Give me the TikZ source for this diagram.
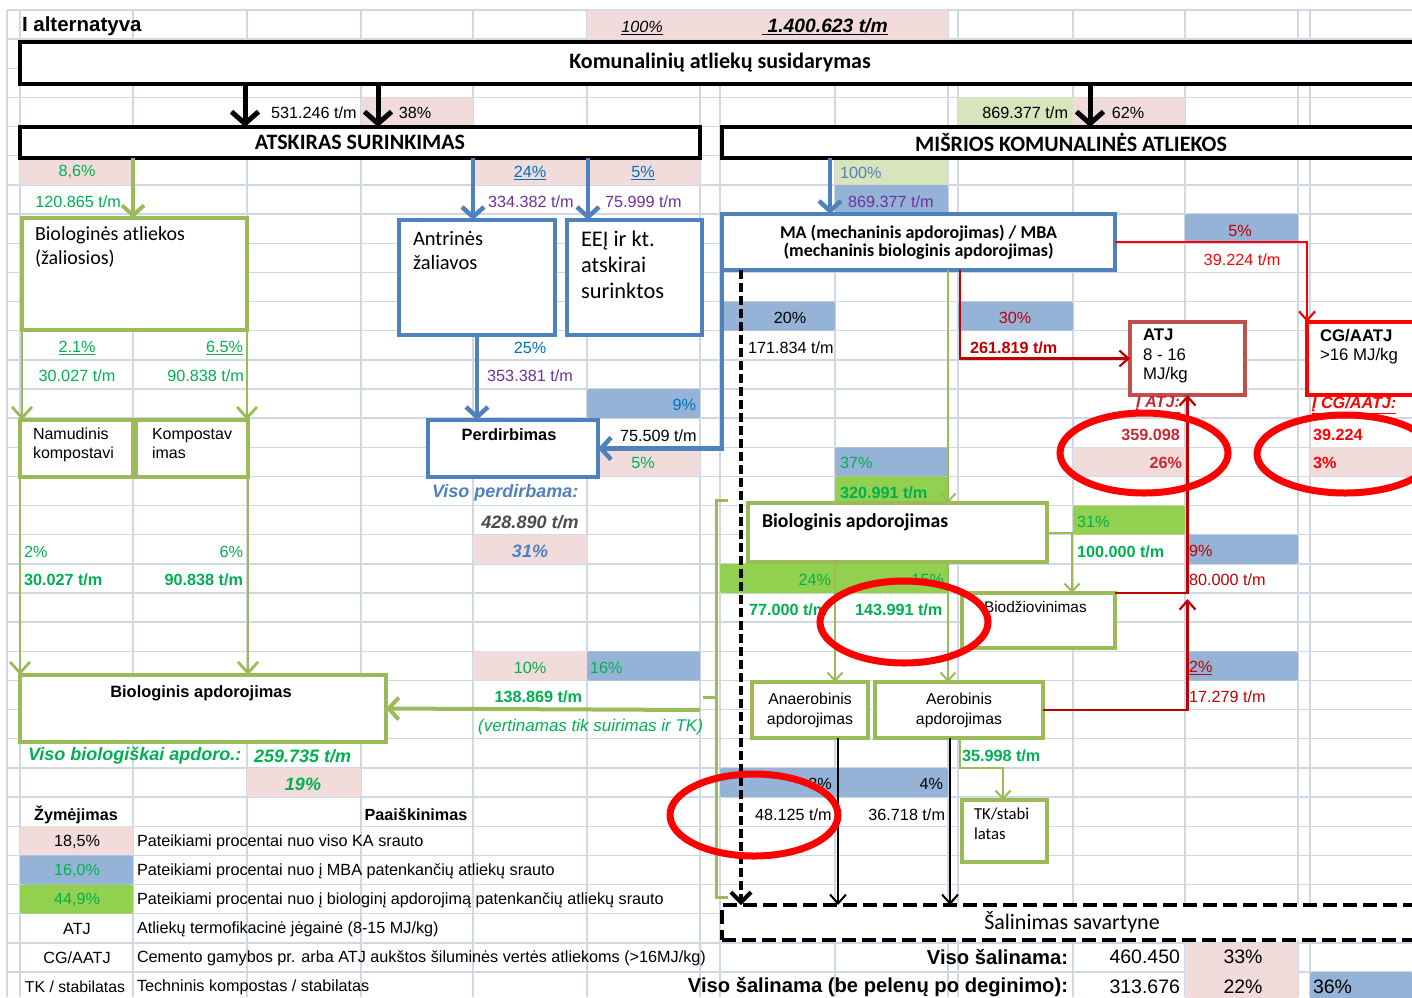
\documentclass[tikz,border=0pt]{standalone}
\usepackage{fontspec}
\setmainfont{Carlito}
\newfontfamily\arialf{Liberation Sans}
\usetikzlibrary{arrows.meta,positioning,calc}
\definecolor{gridc}{RGB}{208,215,229}
\definecolor{pinkc}{RGB}{242,220,219}
\definecolor{bluec}{RGB}{149,179,215}
\definecolor{limec}{RGB}{146,208,80}
\definecolor{paleg}{RGB}{216,228,188}
\definecolor{boxg}{RGB}{155,187,89}
\definecolor{boxb}{RGB}{79,129,189}
\definecolor{txtg}{RGB}{0,176,80}
\definecolor{txtp}{RGB}{112,48,160}
\definecolor{txtb}{RGB}{0,112,192}
\definecolor{darkred}{RGB}{192,0,0}
\definecolor{atjred}{RGB}{192,80,77}
\definecolor{atjtxt}{RGB}{200,40,50}

\tikzset{
  every node/.style={inner sep=0pt, outer sep=0pt},
  gridl/.style={draw=gridc, line width=1.4pt},
  kbox/.style={draw=black, line width=4.5pt, fill=white, anchor=north west,
    font=\bfseries\fontsize{22}{24}\selectfont},
  gbox/.style={draw=boxg, line width=3.8pt, fill=white, anchor=north west},
  bbox/.style={draw=boxb, line width=4pt, fill=white, anchor=north west},
  n/.style={font=\arialf\fontsize{16.2}{19}\selectfont},
  nb/.style={font=\arialf\bfseries\fontsize{16.2}{19}\selectfont},
  nbi/.style={font=\arialf\bfseries\itshape\fontsize{18}{20}\selectfont},
  gn/.style={n, text=txtg}, gnb/.style={nb, text=txtg}, gnbi/.style={nbi, text=txtg},
  pn/.style={n, text=txtp}, bn/.style={n, text=txtb},
  rn/.style={n, text=darkred}, rnb/.style={nb, text=atjtxt},
  sm/.style={font=\arialf\fontsize{15.8}{20}\selectfont},
  cal/.style={font=\fontsize{20}{24}\selectfont, align=left},
  bigarr/.style={line width=5pt, -{Straight Barb[length=12pt,width=27pt]}},
  garr/.style={draw=boxg, line width=4pt, -{Straight Barb[length=10pt,width=22pt]}},
  garm/.style={draw=boxg, line width=2.8pt, -{Straight Barb[length=11pt,width=20pt]}},
  gart/.style={draw=boxg, line width=2pt, -{Straight Barb[length=8pt,width=15pt]}},
  barr/.style={draw=boxb, line width=4.5pt, -{Straight Barb[length=10pt,width=22pt]}},
  rarr/.style={draw=darkred, line width=2.2pt, -{Straight Barb[length=9pt,width=16pt]}},
  karr/.style={draw=black, line width=2pt, -{Straight Barb[length=9pt,width=16pt]}},
  kdash/.style={draw=black, line width=4pt, dash pattern=on 9pt off 4pt,
    -{Straight Barb[length=10pt,width=20pt]}},
  ring/.style={draw=red, line width=7pt}
}

\begin{document}
\begin{tikzpicture}[x=1pt, y=-1pt]
  \useasboundingbox (0,0) rectangle (1412,997);
  \clip (0,0) rectangle (1412,997);
  % spreadsheet grid
  \foreach \k in {0,...,33} \draw[gridl] (7,{10+29.15*\k}) -- (1412,{10+29.15*\k});
  \foreach \x in {7,20,133,247,361,473,587,700,720,835,948,958,1073,1185,1298,1310}
    \draw[gridl] (\x,10) -- (\x,997);
  % coloured cells
  \foreach \a/\b/\c/\d in {587/10/948/39.2, 361/97.5/473/126.6, 1073/97.5/1185/126.6,
      20/155.8/133/184.9, 473/155.8/700/184.9, 587/447.3/700/476.4, 1073/447.3/1185/476.4,
      1310/447.3/1412/476.4, 473/534.7/587/563.9, 473/651.3/587/680.5, 247/767.9/361/797.1,
      20/826.2/133/855.4, 1185/942.8/1298/1001}
    \fill[pinkc, rounded corners=2pt] (\a,\b) rectangle (\c,\d);
  \foreach \a/\b/\c/\d in {958/97.5/1073/126.6, 835/155.8/948/184.9}
    \fill[paleg, rounded corners=2pt] (\a,\b) rectangle (\c,\d);
  \foreach \a/\b/\c/\d in {835/184.9/948/214.1, 1185/214.1/1298/243.2, 722/301.5/835/330.7,
      958/301.5/1073/330.7, 587/389/700/418.1, 835/447.3/948/476.4, 1187/534.7/1298/563.9,
      587/651.3/700/680.5, 1187/651.3/1298/680.5, 720/767.9/948/797.1, 20/855.4/133/884.5,
      1310/972/1412/1001}
    \fill[bluec, rounded corners=2pt] (\a,\b) rectangle (\c,\d);
  \foreach \a/\b/\c/\d in {835/476.4/948/505.6, 1073/505.6/1185/534.7, 720/563.9/948/593,
      20/884.5/133/913.7}
    \fill[limec, rounded corners=2pt] (\a,\b) rectangle (\c,\d);

  % boxes
  \node[kbox, minimum width=1400pt, minimum height=42pt] (kom) at (20,42) {Komunalinių atliekų susidarymas};
  \node[kbox, minimum width=680pt, minimum height=31pt] (ats) at (20,127) {ATSKIRAS SURINKIMAS};
  \node[kbox, minimum width=698pt, minimum height=31pt] (mis) at (722,127) {\raisebox{-2pt}{MIŠRIOS KOMUNALINĖS ATLIEKOS}};
  \node[gbox, minimum width=225pt, minimum height=112pt] (bio) at (22,218) {};
  \node[bbox, minimum width=156pt, minimum height=115pt] (antr) at (399,220) {};
  \node[bbox, minimum width=135pt, minimum height=115pt] (eej) at (567,220) {};
  \node[bbox, minimum width=393pt, minimum height=56pt, align=center,
    font=\bfseries\fontsize{18}{18}\selectfont] (ma) at (722,214)
    {MA (mechaninis apdorojimas) / MBA\\(mechaninis biologinis apdorojimas)};
  \node[gbox, minimum width=113pt, minimum height=57pt] (nam) at (20,420) {};
  \node[gbox, minimum width=112pt, minimum height=57pt] (komp) at (136,420) {};
  \node[bbox, minimum width=170pt, minimum height=57pt] (perd) at (428,420) {};
  \node[draw=atjred, line width=4pt, fill=white, anchor=north west,
    minimum width=115pt, minimum height=73pt] (atj) at (1130,322) {};
  \node[draw=red, line width=4pt, fill=white, anchor=north west,
    minimum width=113pt, minimum height=73pt] (cg) at (1307,322) {};
  \node[gbox, minimum width=299pt, minimum height=59pt] (bior) at (748,503) {};
  \node[gbox, minimum width=153pt, minimum height=55pt] (biod) at (962,593) {};
  \node[gbox, sm, minimum width=116pt, minimum height=56pt, align=center] (anae) at (752,682) {Anaerobinis\\apdorojimas};
  \node[gbox, sm, minimum width=168pt, minimum height=56pt, align=center] (aero) at (875,682) {Aerobinis\\apdorojimas};
  \node[gbox, minimum width=85pt, minimum height=62pt] (tk) at (962,800) {};
  \node[gbox, minimum width=366pt, minimum height=67pt] (biol) at (20,675) {};
  \node[draw=black, line width=4pt, dash pattern=on 14pt off 6pt, fill=white, anchor=north west,
    minimum width=700pt, minimum height=35pt, font=\fontsize{22}{24}\selectfont] (sal) at (722,905)
    {Šalinimas savartyne};

  % flows
  \draw[bigarr] ([xshift=225pt]kom.south west) -- ([xshift=225pt]ats.north west);
  \draw[bigarr] ([xshift=358pt]kom.south west) -- ([xshift=358pt]ats.north west);
  \draw[bigarr] ([xshift=1070pt]kom.south west) -- ([xshift=368pt]mis.north west);
  \draw[garr] ([xshift=113pt]ats.south west) -- ([xshift=111pt]bio.north west);
  \draw[barr] ([xshift=453pt]ats.south west) -- ([xshift=74pt]antr.north west);
  \draw[barr] ([xshift=568pt]ats.south west) -- ([xshift=21pt]eej.north west);
  \draw[barr] ([xshift=108pt]mis.south west) -- ([xshift=108pt]ma.north west);
  \draw[garm] (bio.south west) -- (bio.south west |- nam.north);
  \draw[garm] (bio.south east) -- (bio.south east |- komp.north);
  \draw[garm] (nam.south west) -- (nam.south west |- biol.north);
  \draw[garm] (komp.south east) -- (komp.south east |- biol.north);
  \draw[barr] (antr.south) -- (antr.south |- perd.north);
  \draw[barr] (ma.south west) |- (perd.east);
  \draw[kdash] ([xshift=19pt]ma.south west) -- ([xshift=19pt]sal.north west);
  \draw[gart] ([xshift=226pt]ma.south west) -- ([xshift=200pt]bior.north west);
  \draw[rarr] ([xshift=238pt]ma.south west) |- (atj.west);
  \draw[rarr, draw=red] (ma.east) -| (cg.north west);
  \draw[gart] (bior.east) -| ([xshift=110pt]biod.north west);
  \draw[gart] ([xshift=87pt]bior.south west) -- ([xshift=83pt]anae.north west);
  \draw[gart] ([xshift=200pt]bior.south west) -- ([xshift=73pt]aero.north west);
  \draw[karr] ([xshift=86pt]anae.south west) -- ([xshift=116pt]sal.north west);
  \draw[karr] ([xshift=75pt]aero.south west) -- ([xshift=228pt]sal.north west);
  \draw[gart] ([xshift=85pt]aero.south west) -- ++(0,30) -| ([xshift=41pt]tk.north west);
  \coordinate (rj) at (biod.north east -| atj.south);
  \draw[rarr] (biod.north east) -| (atj.south);
  \draw[rarr] (aero.east) -| ([yshift=-6pt]rj);
  \draw[boxg, line width=3pt] (728,500) -- (716,500) -- (716,897) -- (728,897) (716,697) -- (703,697);
  \coordinate (brk) at (700,710);
  \draw[garr] (brk) -- (biol.east);

  % labels
  \node[font=\arialf\bfseries\fontsize{20.5}{22}\selectfont, anchor=west] (alt) at (22,26) {I alternatyva};
  \node[font=\arialf\itshape\fontsize{16.2}{19}\selectfont] (p100) at (642,28) {\underline{100\%}};
  \node[font=\arialf\bfseries\itshape\fontsize{19.3}{22}\selectfont] (ptot) at (825,27) {\underline{\ 1.400.623 t/m}};
  \node[n, anchor=west] (q531) at (271,113) {531.246 t/m};
  \node[n] (q38) at (415,113) {38\%};
  \node[n, anchor=east] (q869) at (1068,113) {869.377 t/m};
  \node[n] (q62) at (1128,113) {62\%};
  \node[gn] (p86) at (77,172) {8,6\%};
  \node[bn] (p24) at (530,173) {\underline{24\%}};
  \node[bn] (p5a) at (643,173) {\underline{5\%}};
  \node[n, text=boxb, anchor=west] (p100b) at (840,173) {100\%};
  \node[gn, anchor=east] (q120) at (121,202) {120.865 t/m};
  \node[pn, anchor=west] (q334) at (488,202) {334.382 t/m};
  \node[pn, anchor=west] (q75) at (605,202) {75.999 t/m};
  \node[pn, anchor=west] (q869b) at (848,202) {869.377 t/m};
  \node[cal, anchor=north west] (biot) at (35,227) {Biologinės atliekos\\(žaliosios)};
  \node[cal, font=\fontsize{20.5}{24}\selectfont, anchor=north west] (antrt) at (413,231) {Antrinės\\žaliavos};
  \node[cal, font=\fontsize{22.4}{26}\selectfont, anchor=north west] (eejt) at (581,231) {EEĮ ir kt.\\atskirai\\surinktos};
  \node[rn] (p5b) at (1240,231) {5\%};
  \node[n, text=red] (q39) at (1242,260) {39.224 t/m};
  \node[gn] (p21) at (77,348) {\underline{2.1\%}};
  \node[gn, anchor=east] (p65) at (243,348) {\underline{6.5\%}};
  \node[gn] (q30) at (77,376) {30.027 t/m};
  \node[gn, anchor=east] (q90) at (244,376) {90.838 t/m};
  \node[bn] (p25) at (530,348) {25\%};
  \node[pn] (q353) at (530,376) {353.381 t/m};
  \node[n] (p20) at (790,318) {20\%};
  \node[n, anchor=west] (q171) at (748,348) {171.834 t/m};
  \node[rn] (p30) at (1015,318) {30\%};
  \node[nb, text=darkred, anchor=west] (q261) at (970,348) {261.819 t/m};
  \node[font=\arialf\fontsize{16.8}{19.5}\selectfont, anchor=north west, align=left] (atjt) at (1143,329) {\textbf{ATJ}\\8 - 16\\MJ/kg};
  \node[font=\arialf\fontsize{16.8}{19.5}\selectfont, anchor=north west, align=left] (cgt) at (1320,329) {\textbf{CG/AATJ}\\>16 MJ/kg};
  \node[bn, anchor=east] (p9a) at (696,405) {9\%};
  \node[sm, font=\arialf\fontsize{16}{19}\selectfont, anchor=north west, align=left] (namt) at (33,428) {Namudinis\\kompostavi};
  \node[sm, font=\arialf\fontsize{16}{19}\selectfont, anchor=north west, align=left] (kompt) at (152,428) {Kompostav\\imas};
  \node[nb, font=\arialf\bfseries\fontsize{16.4}{19}\selectfont, anchor=north] (perdt) at (509,429) {Perdirbimas};
  \node[n, anchor=west] (q755) at (620,436) {75.509 t/m};
  \node[gn] (p5c) at (643,463) {5\%};
  \node[rnb, font=\arialf\bfseries\itshape\fontsize{16.2}{19}\selectfont, anchor=east] (iatj) at (1180,405) {\underline{Į ATJ:}};
  \node[rnb, anchor=east] (q359) at (1180,435) {359.098};
  \node[rnb, anchor=east] (p26) at (1182,463) {26\%};
  \node[nb, text=red, font=\arialf\bfseries\itshape\fontsize{16.2}{19}\selectfont, anchor=west] (icg) at (1312,405) {\underline{Į CG/AATJ:}};
  \node[nb, text=red, anchor=west] (q39b) at (1313,435) {39.224};
  \node[nb, text=red, anchor=west] (p3) at (1313,463) {3\%};
  \node[gn, anchor=west] (p37) at (840,463) {37\%};
  \node[gnb, anchor=west] (q320) at (840,493) {320.991 t/m};
  \node[nbi, text=boxb, anchor=west] (visop) at (432,493) {Viso perdirbama:};
  \node[nbi, text=black!70] (q428) at (530,522) {428.890 t/m};
  \node[nbi, text=boxb] (p31a) at (530,551) {31\%};
  \node[font=\bfseries\fontsize{19.7}{22}\selectfont, anchor=west] (biort) at (762,522) {Biologinis apdorojimas};
  \node[gn, anchor=west] (p31b) at (1077,522) {31\%};
  \node[gnb, anchor=west] (q100) at (1077,552) {100.000 t/m};
  \node[rn, anchor=west] (p9b) at (1189,551) {9\%};
  \node[rn, anchor=west] (q80) at (1189,580) {80.000 t/m};
  \node[gn, anchor=west] (p2a) at (24,552) {2\%};
  \node[gn, anchor=east] (p6) at (243,552) {6\%};
  \node[gnb, anchor=west] (q30b) at (24,580) {30.027 t/m};
  \node[gnb, anchor=east] (q90b) at (243,580) {90.838 t/m};
  \node[gn, anchor=east] (p24b) at (831,580) {24\%};
  \node[gn, anchor=east] (p15) at (944,580) {15\%};
  \node[gnb, anchor=west] (q77) at (749,610) {77.000 t/m};
  \node[gnb, anchor=west] (q143) at (855,610) {143.991 t/m};
  \node[sm, font=\arialf\fontsize{15.4}{19}\selectfont, anchor=north west] (biodt) at (984,601) {Biodžiovinimas};
  \node[gn] (p10) at (530,668) {10\%};
  \node[gn, anchor=west] (p16) at (590,668) {16\%};
  \node[rn, anchor=west] (p2b) at (1189,668) {\underline{2\%}};
  \node[rn, anchor=west] (q17) at (1189,697) {17.279 t/m};
  \node[gnb, anchor=east] (q138) at (582,697) {138.869 t/m};
  \node[nb, font=\arialf\bfseries\fontsize{16.4}{19}\selectfont, anchor=north] (biolt) at (201,686) {Biologinis apdorojimas};
  \node[gn, font=\arialf\itshape\fontsize{17}{19}\selectfont, anchor=east] (vert) at (703,727) {(vertinamas tik suirimas ir TK)};
  \node[gnbi, anchor=west] (visob) at (28,756) {Viso biologiškai apdoro.:};
  \node[gnbi, anchor=west] (q259) at (254,756) {259.735 t/m};
  \node[gnb, anchor=west] (q35) at (962,756) {35.998 t/m};
  \node[gnbi] (p19) at (303,784) {19\%};
  \node[n] (p3b) at (820,784) {3\%};
  \node[n, anchor=east] (p4) at (943,784) {4\%};
  \node[n, anchor=west] (q48) at (755,815) {48.125 t/m};
  \node[n, anchor=east] (q36) at (945,815) {36.718 t/m};
  \node[cal, font=\fontsize{16.7}{20}\selectfont, anchor=north west] (tkt) at (974,808) {TK/stabi\\latas};
  % legend
  \node[nb] (zym) at (76,815) {Žymėjimas};
  \node[nb] (paa) at (416,815) {Paaiškinimas};
  \node[n] (z1) at (77,842) {18,5\%};
  \node[gn] (z2) at (77,871) {16,0\%};
  \node[gn] (z3) at (77,900) {44,9\%};
  \node[n] (z4) at (77,929) {ATJ};
  \node[n] (z5) at (77,958) {CG/AATJ};
  \node[n, font=\arialf\fontsize{15.8}{19}\selectfont] (z6) at (75,987) {TK / stabilatas};
  \node[n, anchor=west] (e1) at (137,842) {Pateikiami procentai nuo viso KA srauto};
  \node[n, anchor=west] (e2) at (137,871) {Pateikiami procentai nuo į MBA patenkančių atliekų srauto};
  \node[n, anchor=west] (e3) at (137,900) {Pateikiami procentai nuo į biologinį apdorojimą patenkančių atliekų srauto};
  \node[n, anchor=west] (e4) at (137,929) {Atliekų termofikacinė jėgainė (8-15 MJ/kg)};
  \node[n, anchor=west] (e5) at (137,958) {Cemento gamybos pr. arba ATJ aukštos šiluminės vertės atliekoms (>16MJ/kg)};
  \node[n, anchor=west] (e6) at (137,987) {Techninis kompostas / stabilatas};
  % totals
  \node[font=\arialf\bfseries\fontsize{20.2}{22}\selectfont, anchor=east] (vs1) at (1068,957) {Viso šalinama:};
  \node[font=\arialf\fontsize{19.5}{22}\selectfont, anchor=east] (vs1n) at (1180,957) {460.450};
  \node[font=\arialf\fontsize{19.5}{22}\selectfont] (vs1p) at (1243,957) {33\%};
  \node[font=\arialf\bfseries\fontsize{20.2}{22}\selectfont, anchor=east] (vs2) at (1068,987) {Viso šalinama (be pelenų po deginimo):};
  \node[font=\arialf\fontsize{19.5}{22}\selectfont, anchor=east] (vs2n) at (1180,987) {313.676};
  \node[font=\arialf\fontsize{19.5}{22}\selectfont] (vs2p) at (1243,987) {22\%};
  \node[font=\arialf\fontsize{19.5}{22}\selectfont, anchor=west] (vs2b) at (1313,987) {36\%};

  % red marks
  \draw[ring] (1144,453) ellipse [x radius=84pt, y radius=40pt];
  \draw[ring] (1345,454) ellipse [x radius=88pt, y radius=39pt];
  \draw[ring] (904,622) ellipse [x radius=84pt, y radius=41pt];
  \draw[ring] (754,815) ellipse [x radius=84pt, y radius=41pt];
\end{tikzpicture}
\end{document}
